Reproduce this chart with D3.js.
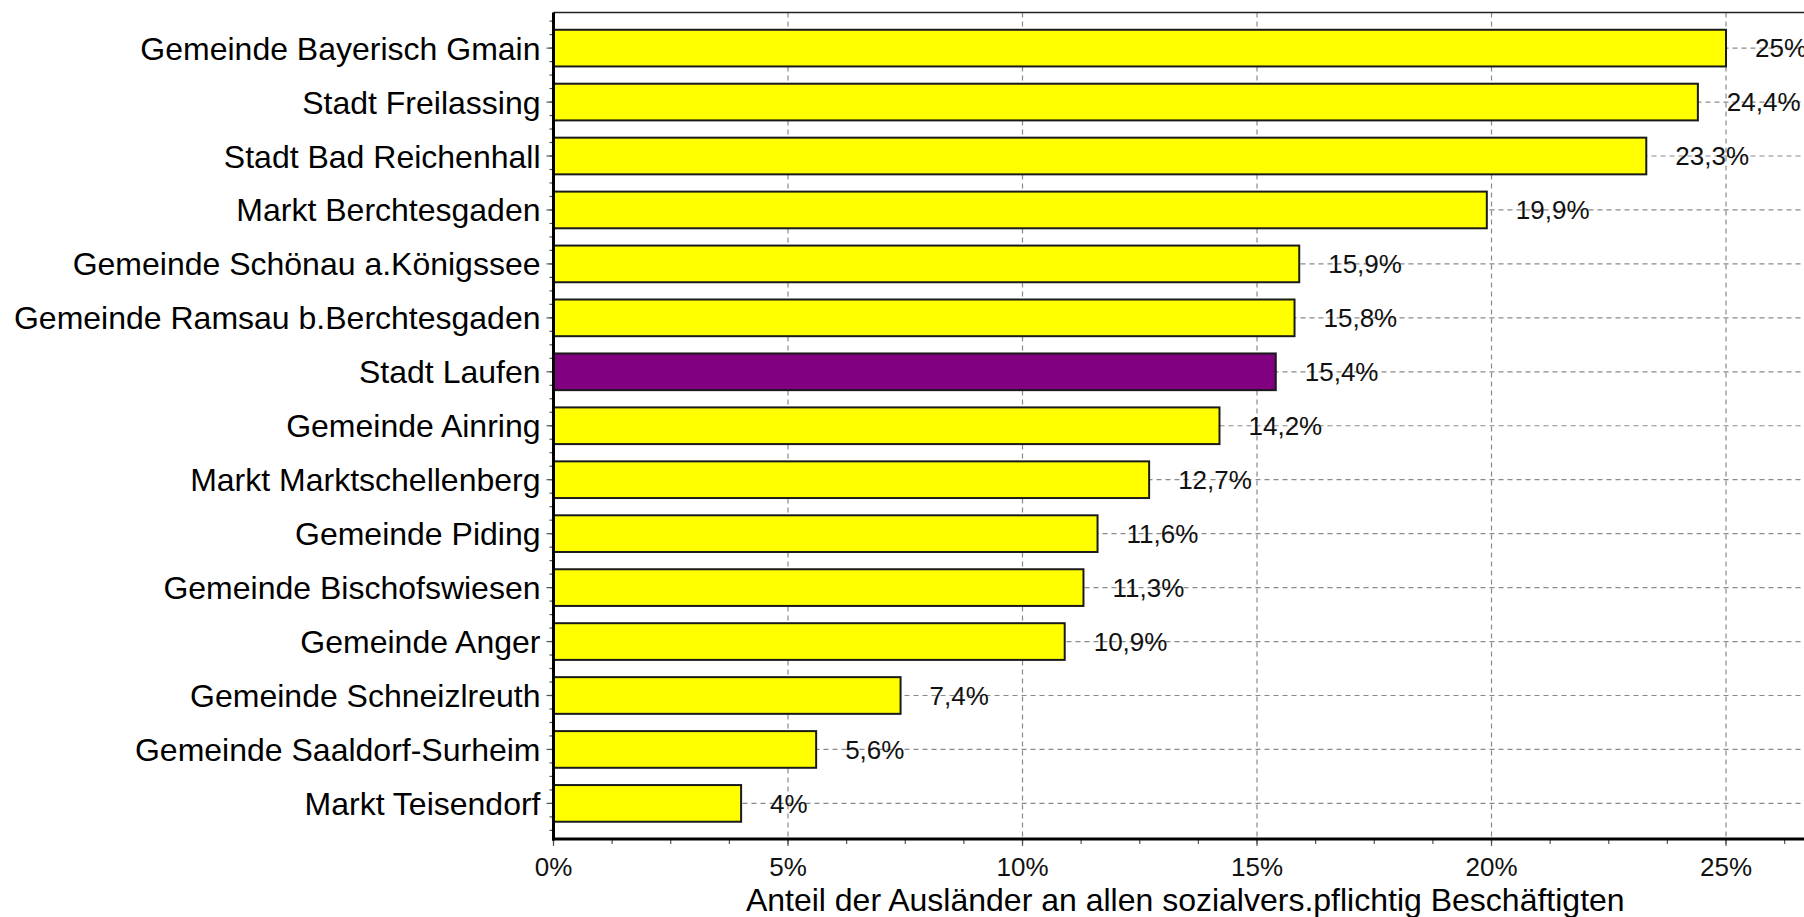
<!DOCTYPE html>
<html>
<head>
<meta charset="utf-8">
<script src="https://cdn.jsdelivr.net/npm/d3@7"></script>
<style>
  body { margin: 0; background: #fff; }
  svg { display: block; font-family: "Liberation Sans", Arial, sans-serif; }
</style>
</head>
<body>
<div id="chart"></div>
<script>
// donnees
const gemeinden = [
  "Gemeinde Bayerisch Gmain", "Stadt Freilassing", "Stadt Bad Reichenhall",
  "Markt Berchtesgaden", "Gemeinde Schönau a.Königssee", "Gemeinde Ramsau b.Berchtesgaden",
  "Stadt Laufen", "Gemeinde Ainring", "Markt Marktschellenberg", "Gemeinde Piding",
  "Gemeinde Bischofswiesen", "Gemeinde Anger", "Gemeinde Schneizlreuth",
  "Gemeinde Saaldorf-Surheim", "Markt Teisendorf"
];
const anteile = [25, 24.4, 23.3, 19.9, 15.9, 15.8, 15.4, 14.2, 12.7, 11.6, 11.3, 10.9, 7.4, 5.6, 4];
const hervorgehoben = ["Stadt Laufen"];
const xTicks = [0, 5, 10, 15, 20, 25];
const axisTitle = "Anteil der Ausländer an allen sozialvers.pflichtig Beschäftigten";

const width = 1804, height = 917;
const plot = { left: 553.5, right: 1817, top: 12.5, bottom: 839 };

const svg = d3.select("#chart").append("svg")
  .attr("width", width)
  .attr("height", height);

const x = d3.scaleLinear().domain([0, 26.94]).range([plot.left, plot.right]);
const y = d3.scaleBand().domain(gemeinden).range([plot.top, plot.bottom]).padding(0.32);

const fmt = v => String(v).replace(".", ",") + "%";

// grille verticale
svg.append("g")
  .selectAll("line")
  .data(xTicks.filter(t => t > 0))
  .join("line")
  .attr("x1", d => x(d)).attr("x2", d => x(d))
  .attr("y1", plot.top).attr("y2", plot.bottom)
  .attr("stroke", "#8a8a8a").attr("stroke-width", 1.2)
  .attr("stroke-dasharray", "5,4");

// grille horizontale
svg.append("g")
  .selectAll("line")
  .data(gemeinden)
  .join("line")
  .attr("x1", plot.left).attr("x2", width)
  .attr("y1", d => y(d) + y.bandwidth() / 2).attr("y2", d => y(d) + y.bandwidth() / 2)
  .attr("stroke", "#8a8a8a").attr("stroke-width", 1.2)
  .attr("stroke-dasharray", "5,4");

// barres
svg.append("g")
  .selectAll("rect")
  .data(gemeinden)
  .join("rect")
  .attr("x", x(0))
  .attr("y", d => y(d))
  .attr("width", (d, i) => x(anteile[i]) - x(0))
  .attr("height", y.bandwidth())
  .attr("fill", d => hervorgehoben.includes(d) ? "#800080" : "#ffff00")
  .attr("stroke", "#1a1a1a")
  .attr("stroke-width", 2);

// etiquettes de valeur
svg.append("g")
  .style("font-size", "26px")
  .selectAll("text")
  .data(gemeinden)
  .join("text")
  .attr("x", (d, i) => x(anteile[i]) + 29)
  .attr("y", d => y(d) + y.bandwidth() / 2)
  .attr("dy", "0.36em")
  .attr("fill", "#111")
  .text((d, i) => fmt(anteile[i]));

// axe y : ticks
const step = y.step();
const yMinor = [];
for (let v = plot.top + (y(gemeinden[0]) + y.bandwidth() / 2 - plot.top) % (step / 4); v < plot.bottom; v += step / 4) yMinor.push(v);
svg.append("g")
  .selectAll("line")
  .data(yMinor)
  .join("line")
  .attr("x1", plot.left - 4).attr("x2", plot.left)
  .attr("y1", d => d).attr("y2", d => d)
  .attr("stroke", "#555").attr("stroke-width", 1.2);
svg.append("g")
  .selectAll("line")
  .data(gemeinden)
  .join("line")
  .attr("x1", plot.left - 7).attr("x2", plot.left)
  .attr("y1", d => y(d) + y.bandwidth() / 2).attr("y2", d => y(d) + y.bandwidth() / 2)
  .attr("stroke", "#555").attr("stroke-width", 1.2);

// noms des communes
svg.append("g")
  .style("font-size", "32px")
  .selectAll("text")
  .data(gemeinden)
  .join("text")
  .attr("x", plot.left - 13)
  .attr("y", d => y(d) + y.bandwidth() / 2)
  .attr("dy", "0.36em")
  .attr("text-anchor", "end")
  .attr("fill", "#000")
  .text(d => d);

// axe x : ticks
const xMinor = d3.range(0, 27, 1.25);
svg.append("g")
  .selectAll("line")
  .data(xMinor)
  .join("line")
  .attr("x1", d => x(d)).attr("x2", d => x(d))
  .attr("y1", plot.bottom).attr("y2", plot.bottom + 5)
  .attr("stroke", "#555").attr("stroke-width", 1.2);
svg.append("g")
  .selectAll("line")
  .data(xTicks)
  .join("line")
  .attr("x1", d => x(d)).attr("x2", d => x(d))
  .attr("y1", plot.bottom).attr("y2", plot.bottom + 7)
  .attr("stroke", "#555").attr("stroke-width", 1.2);

svg.append("g")
  .style("font-size", "26px")
  .selectAll("text")
  .data(xTicks)
  .join("text")
  .attr("x", d => x(d))
  .attr("y", 876)
  .attr("text-anchor", "middle")
  .attr("fill", "#111")
  .text(d => d + "%");

// cadre
svg.append("line")
  .attr("x1", plot.left).attr("x2", width)
  .attr("y1", plot.top).attr("y2", plot.top)
  .attr("stroke", "#222").attr("stroke-width", 1.5);
svg.append("line")
  .attr("x1", plot.left).attr("x2", plot.left)
  .attr("y1", plot.top).attr("y2", plot.bottom + 1.5)
  .attr("stroke", "#000").attr("stroke-width", 3);
svg.append("line")
  .attr("x1", plot.left - 1.5).attr("x2", width)
  .attr("y1", plot.bottom).attr("y2", plot.bottom)
  .attr("stroke", "#000").attr("stroke-width", 3);

// titre de l'axe
svg.append("text")
  .attr("x", (plot.left + plot.right) / 2)
  .attr("y", 911)
  .attr("text-anchor", "middle")
  .style("font-size", "32px")
  .attr("fill", "#000")
  .text(axisTitle);
</script>
</body>
</html>
